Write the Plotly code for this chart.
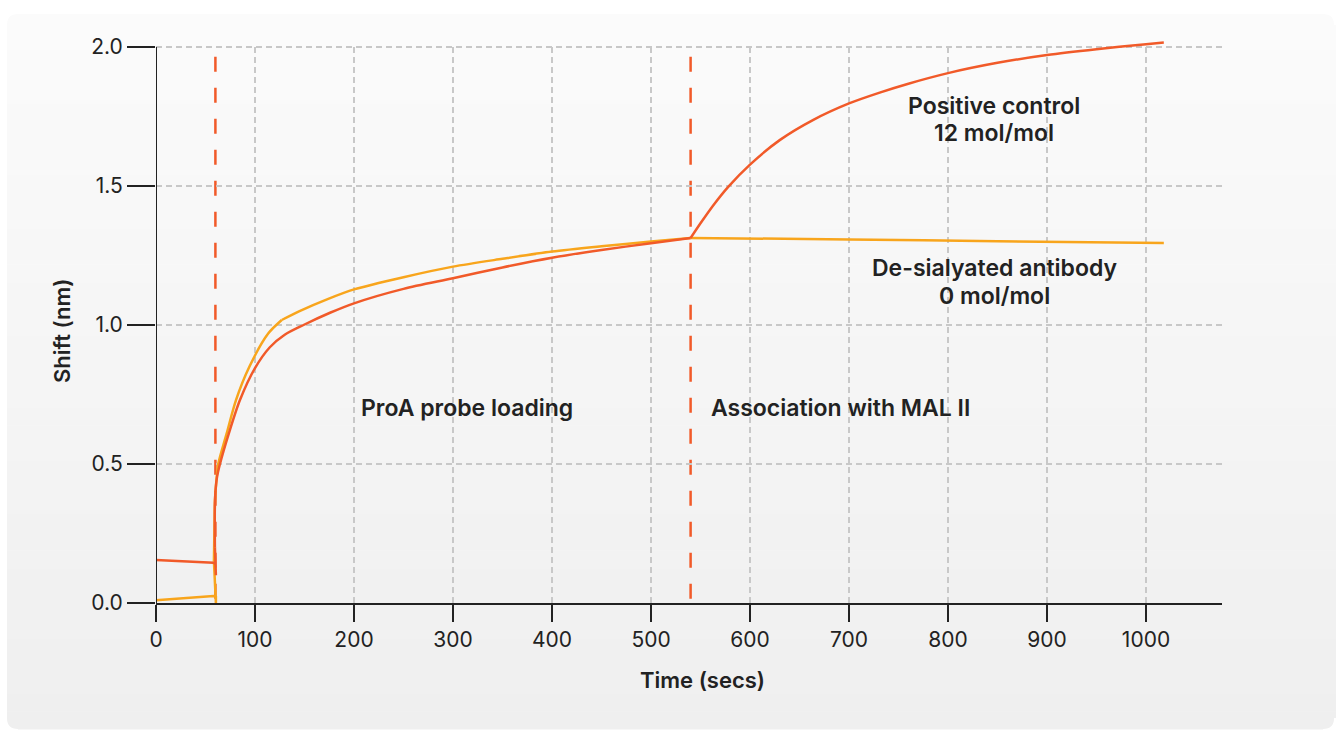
import plotly.graph_objects as go

# ---------------- data ----------------
# Positive control (12 mol/mol): baseline, ProA loading, association with MAL II
pos_time = [0, 58, 60, 60.5, 59.5, 59.6, 61.5, 64.6, 74, 84.8, 100, 115, 130, 149, 175.8, 200,
            250, 300, 350, 400, 450, 500, 540,
            550, 563, 578, 600, 630, 664, 700, 731, 760, 800, 850, 900, 950, 1000, 1018]
pos_shift = [0.155, 0.145, 0.140, 0.100, 0.200, 0.370, 0.450, 0.500, 0.615, 0.730, 0.845,
             0.920, 0.965, 1.000, 1.044, 1.078, 1.130, 1.168, 1.207, 1.242, 1.270, 1.294, 1.313,
             1.366, 1.431, 1.497, 1.577, 1.665, 1.738, 1.797, 1.836, 1.868, 1.906, 1.943, 1.971,
             1.992, 2.010, 2.016]

# De-sialyated antibody (0 mol/mol)
desial_time = [0, 58, 60.5, 60.5, 58.5, 59.0, 59.6, 61, 62.9, 71.4, 80.8, 94.3, 113.5, 127,
               145, 174, 200, 250, 300, 350, 400, 450, 500, 540,
               700, 850, 1018]
desial_shift = [0.010, 0.025, 0.022, 0.000, 0.150, 0.260, 0.371, 0.440, 0.500, 0.610, 0.730, 0.850,
                0.970, 1.018, 1.050, 1.094, 1.128, 1.172, 1.210, 1.238, 1.264, 1.283, 1.300,
                1.313, 1.308, 1.301, 1.295]

# times where each curve has a corner (segments are smoothed between them)
pos_breaks = [59.5, 540]
desial_breaks = [58.5, 127, 540]

phase_boundaries = [60, 540]
x_ticks = [0, 100, 200, 300, 400, 500, 600, 700, 800, 900, 1000]
y_ticks = [0.0, 0.5, 1.0, 1.5, 2.0]

RED = "#f15a29"
YELLOW = "#f8a51c"
INK = "#222222"
GRID = "#c8c8c8"
FONT = "Inter"

# ---------------- geometry ----------------
W, H = 1336, 731
L, R, T, B = 156, 114, 33, 128
PW, PH = W - L - R, H - T - B


def px_x(p):
    return (p - L) / PW


def px_y(p):
    return (H - B - p) / PH


fig = go.Figure()


def add_series(t, s, breaks, color, name):
    idx = [t.index(b) for b in breaks]
    bounds = [0] + idx + [len(t) - 1]
    for j in range(len(bounds) - 1):
        a, b = bounds[j], bounds[j + 1]
        line = dict(color=color, width=2.5)
        if j > 0:
            line.update(shape="spline", smoothing=0.8)
        fig.add_trace(go.Scatter(x=t[a:b + 1], y=s[a:b + 1], mode="lines", name=name,
                                 line=line, showlegend=False))


add_series(desial_time, desial_shift, desial_breaks, YELLOW, "De-sialyated antibody")
add_series(pos_time, pos_shift, pos_breaks, RED, "Positive control")

shapes = []
# gradient panel background
n = 40
top, bot = 14, 729
for i in range(n):
    t0 = top + (bot - top) * i / n
    t1 = top + (bot - top) * (i + 1) / n + 0.6
    f = i / (n - 1)
    c = round(251 + (239 - 251) * f)
    shapes.append(dict(type="rect", xref="paper", yref="paper",
                       x0=px_x(7), x1=px_x(1336), y0=px_y(t1), y1=px_y(t0),
                       fillcolor=f"rgb({c},{c},{c})", line=dict(width=0), layer="below"))
# rounded corner masks
r = 11
for (cx, cy, sx, sy) in [(7, 14, 1, 1), (1334, 14, -1, 1), (7, 729, 1, -1), (1334, 729, -1, -1)]:
    ext = 3
    p0 = (cx - sx * ext, cy - sy * ext)
    a = (cx + sx * r, cy - sy * ext)
    b = (cx + sx * r, cy)
    c_ = (cx, cy + sy * r)
    d = (cx - sx * ext, cy + sy * r)
    path = (f"M {px_x(p0[0])},{px_y(p0[1])} L {px_x(a[0])},{px_y(a[1])} "
            f"L {px_x(b[0])},{px_y(b[1])} Q {px_x(cx)},{px_y(cy)} {px_x(c_[0])},{px_y(c_[1])} "
            f"L {px_x(d[0])},{px_y(d[1])} Z")
    shapes.append(dict(type="path", xref="paper", yref="paper", path=path,
                       fillcolor="white", line=dict(width=0), layer="below"))

# vertical grid lines
for xv in x_ticks[1:]:
    shapes.append(dict(type="line", xref="x", yref="y", x0=xv, x1=xv, y0=0, y1=2.0,
                       line=dict(color=GRID, width=2, dash="6px,4px"), layer="below"))
# phase boundaries
for xv in phase_boundaries:
    shapes.append(dict(type="line", xref="x", yref="y", x0=xv, x1=xv, y0=1.965, y1=0,
                       line=dict(color=RED, width=2.5, dash="15px,16px"), layer="below"))
# y axis line
shapes.append(dict(type="line", xref="x", yref="y", x0=0, x1=0, y0=0, y1=2.0,
                   line=dict(color=INK, width=2), layer="above"))

annos = []
lab_font = dict(family=FONT, size=23, color=INK, weight=600)


def label(text, xpx, ypx, anchor="center", font=lab_font, angle=0):
    annos.append(dict(text=text, x=px_x(xpx), y=px_y(ypx), xref="paper", yref="paper",
                      showarrow=False, font=font, xanchor=anchor, yanchor="middle",
                      textangle=angle))


label("ProA probe loading", 467, 408)
label("Association with MAL II", 709, 408, anchor="left")
label("Positive control", 994, 106)
label("12 mol/mol", 994, 133)
label("De-sialyated antibody", 994, 268)
label("0 mol/mol", 994, 296)
title_font = dict(family=FONT, size=22, color=INK, weight=600)
label("Time (secs)", 702, 680, font=title_font)
label("Shift (nm)", 62, 331, font=title_font, angle=-90)

fig.update_layout(
    width=W, height=H,
    margin=dict(l=L, r=R, t=T, b=B, pad=0),
    paper_bgcolor="white",
    plot_bgcolor="rgba(0,0,0,0)",
    shapes=shapes,
    annotations=annos,
    showlegend=False,
    xaxis=dict(range=[0, PW / 0.99], tickvals=x_ticks, ticktext=[str(v) for v in x_ticks],
               showgrid=False, zeroline=False, showline=True, linecolor=INK, linewidth=2,
               ticks="outside", ticklen=17, tickwidth=2, tickcolor=INK,
               tickfont=dict(family=FONT, size=21, color=INK)),
    yaxis=dict(range=[0, PH / 278.0], tickvals=y_ticks, ticktext=[f"{v:.1f}" for v in y_ticks],
               showgrid=True, gridcolor=GRID, gridwidth=2, griddash="6px,4px",
               zeroline=False, showline=False,
               ticks="outside", ticklen=28, tickwidth=2, tickcolor=INK,
               tickfont=dict(family=FONT, size=21, color=INK)),
)

fig.write_html("out.html")
